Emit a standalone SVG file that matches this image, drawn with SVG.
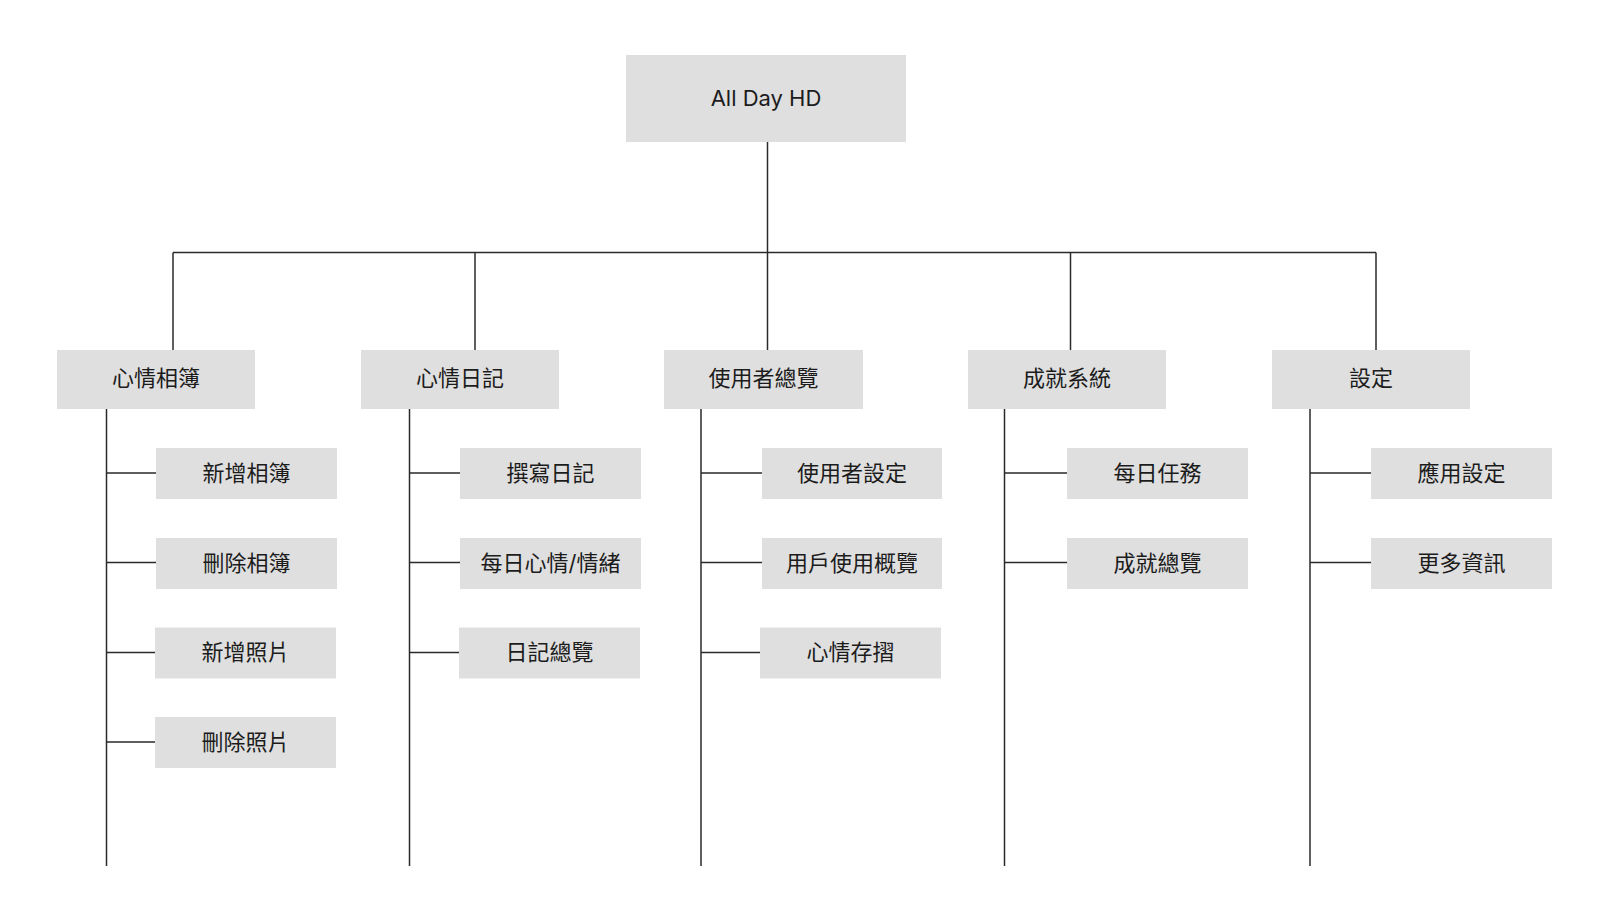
<svg xmlns="http://www.w3.org/2000/svg" width="1598" height="920" viewBox="0 0 1598 920">
<style>
.box{fill:#dfdfdf;}
.t{font-family:"Inter","Noto Sans CJK TC","Noto Sans CJK SC",sans-serif;font-size:22px;fill:#1c1c1c;text-anchor:middle;dominant-baseline:central;}
.c{stroke:#2a2a2a;stroke-width:1.5;fill:none;}
</style>
<rect width="1598" height="920" fill="#ffffff"/>
<g id="connectors" class="c">
<path d="M767.5 142 V252.5"/>
<path d="M173 252.5 H1376"/>
<path d="M173 252.5 V350"/>
<path d="M475 252.5 V350"/>
<path d="M767.5 252.5 V350"/>
<path d="M1070.5 252.5 V350"/>
<path d="M1376 252.5 V350"/>
<path d="M106.5 409 V866"/>
<path d="M106.5 473 H156 M106.5 562.5 H156 M106.5 652.5 H155 M106.5 742 H155"/>
<path d="M409.5 409 V866"/>
<path d="M409.5 473 H460 M409.5 562.5 H460 M409.5 652.5 H459"/>
<path d="M701 409 V866"/>
<path d="M701 473 H762 M701 562.5 H762 M701 652.5 H760"/>
<path d="M1004.5 409 V866"/>
<path d="M1004.5 473 H1067 M1004.5 562.5 H1067"/>
<path d="M1310 409 V866"/>
<path d="M1310 473 H1371 M1310 562.5 H1371"/>
</g>
<g id="root"><rect class="box" x="626" y="55" width="280" height="87"/><text class="t" x="766" y="98">All Day HD</text></g>
<g id="n-album"><rect class="box" x="57" y="350" width="198" height="59"/><text class="t" x="156" y="378">心情相簿</text></g>
<g id="n-diary"><rect class="box" x="361" y="350" width="198" height="59"/><text class="t" x="460" y="378">心情日記</text></g>
<g id="n-user"><rect class="box" x="664" y="350" width="199" height="59"/><text class="t" x="763.5" y="378">使用者總覽</text></g>
<g id="n-achv"><rect class="box" x="968" y="350" width="198" height="59"/><text class="t" x="1067" y="378">成就系統</text></g>
<g id="n-set"><rect class="box" x="1272" y="350" width="198" height="59"/><text class="t" x="1371" y="378">設定</text></g>

<g id="a1"><rect class="box" x="156" y="448" width="181" height="51"/><text class="t" x="246.5" y="472.5">新增相簿</text></g>
<g id="a2"><rect class="box" x="156" y="538" width="181" height="51"/><text class="t" x="246.5" y="562.5">刪除相簿</text></g>
<g id="a3"><rect class="box" x="155" y="627.5" width="181" height="51"/><text class="t" x="245.5" y="652">新增照片</text></g>
<g id="a4"><rect class="box" x="155" y="717" width="181" height="51"/><text class="t" x="245.5" y="741.5">刪除照片</text></g>

<g id="b1"><rect class="box" x="460" y="448" width="181" height="51"/><text class="t" x="550.5" y="472.5">撰寫日記</text></g>
<g id="b2"><rect class="box" x="460" y="538" width="181" height="51"/><text class="t" x="550.5" y="562.5">每日心情/情緒</text></g>
<g id="b3"><rect class="box" x="459" y="627.5" width="181" height="51"/><text class="t" x="549.5" y="652">日記總覽</text></g>

<g id="c1"><rect class="box" x="762" y="448" width="180" height="51"/><text class="t" x="852" y="472.5">使用者設定</text></g>
<g id="c2"><rect class="box" x="762" y="538" width="180" height="51"/><text class="t" x="852" y="562.5">用戶使用概覽</text></g>
<g id="c3"><rect class="box" x="760" y="627.5" width="181" height="51"/><text class="t" x="850.5" y="652">心情存摺</text></g>

<g id="d1"><rect class="box" x="1067" y="448" width="181" height="51"/><text class="t" x="1157.5" y="472.5">每日任務</text></g>
<g id="d2"><rect class="box" x="1067" y="538" width="181" height="51"/><text class="t" x="1157.5" y="562.5">成就總覽</text></g>

<g id="e1"><rect class="box" x="1371" y="448" width="181" height="51"/><text class="t" x="1461.5" y="472.5">應用設定</text></g>
<g id="e2"><rect class="box" x="1371" y="538" width="181" height="51"/><text class="t" x="1461.5" y="562.5">更多資訊</text></g>
</svg>
